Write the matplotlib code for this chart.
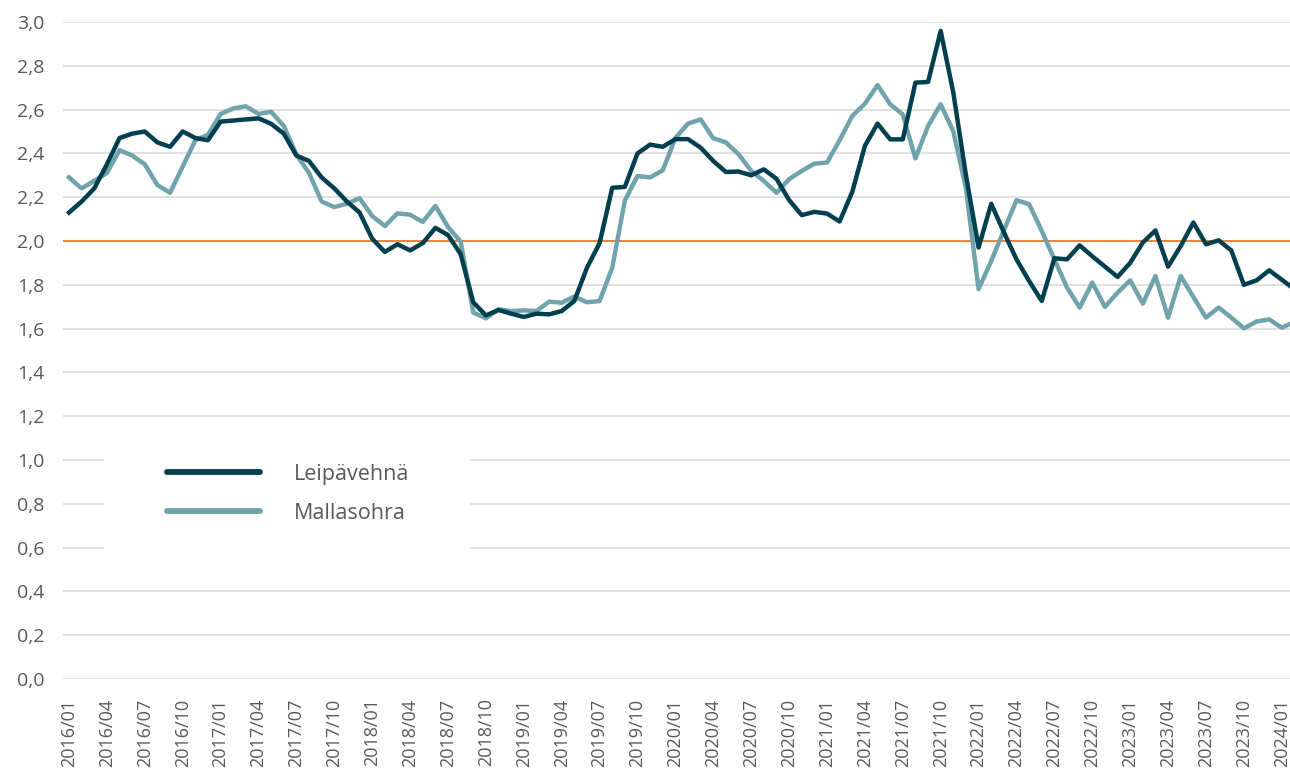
import numpy as np
import matplotlib
matplotlib.use("Agg")
import matplotlib.pyplot as plt
from matplotlib.lines import Line2D
from matplotlib.patches import Rectangle

plt.rcParams['font.family'] = ['Open Sans', 'DejaVu Sans']

# monthly prices, 2016/01 ->
leipavehna = [
    2.13, 2.18, 2.24, 2.35, 2.47, 2.49, 2.50, 2.45, 2.43, 2.50, 2.47, 2.46,
    2.545, 2.55, 2.555, 2.56, 2.535, 2.49, 2.39, 2.365, 2.29, 2.24, 2.18, 2.13,
    2.01, 1.95, 1.985, 1.957, 1.99, 2.06, 2.027, 1.94, 1.72, 1.66, 1.685, 1.668,
    1.653, 1.668, 1.665, 1.68, 1.726, 1.878, 1.99, 2.243, 2.247, 2.40, 2.44, 2.43,
    2.465, 2.465, 2.426, 2.365, 2.315, 2.317, 2.30, 2.327, 2.284, 2.187, 2.118, 2.133,
    2.125, 2.089, 2.224, 2.434, 2.536, 2.464, 2.464, 2.723, 2.726, 2.959, 2.677, 2.30,
    1.97, 2.17, 2.04, 1.916, 1.817, 1.726, 1.921, 1.916, 1.98, 1.93, 1.883, 1.836,
    1.90, 1.993, 2.048, 1.883, 1.977, 2.084, 1.985, 2.003, 1.957, 1.80, 1.82, 1.866,
    1.823, 1.78,
]
mallasohra = [
    2.29, 2.24, 2.275, 2.31, 2.415, 2.39, 2.35, 2.255, 2.22, 2.34, 2.46, 2.485,
    2.58, 2.605, 2.615, 2.58, 2.59, 2.525, 2.395, 2.31, 2.18, 2.155, 2.17, 2.195,
    2.114, 2.068, 2.126, 2.12, 2.087, 2.16, 2.064, 1.997, 1.673, 1.647, 1.688, 1.68,
    1.683, 1.68, 1.723, 1.718, 1.746, 1.72, 1.726, 1.878, 2.185, 2.297, 2.29, 2.323,
    2.47, 2.536, 2.555, 2.469, 2.45, 2.396, 2.32, 2.274, 2.22, 2.282, 2.32, 2.353,
    2.358, 2.46, 2.571, 2.627, 2.712, 2.624, 2.578, 2.377, 2.525, 2.624, 2.50, 2.24,
    1.78, 1.909, 2.048, 2.186, 2.168, 2.046, 1.916, 1.787, 1.696, 1.81, 1.699, 1.764,
    1.82, 1.714, 1.84, 1.65, 1.84, 1.744, 1.65, 1.696, 1.65, 1.601, 1.632, 1.642,
    1.604, 1.63,
]
raja = 2.0

kuukaudet = [f"{y}/{m:02d}" for y in range(2016, 2025) for m in range(1, 13)][:len(leipavehna)]
tick_idx = list(range(0, 97, 3))
tick_labels = [kuukaudet[i] for i in tick_idx]

dark = '#003f4f'
light = '#70a3ab'
orange = '#ed7d31'
textc = '#595959'

fig = plt.figure(figsize=(12.9, 7.79), dpi=100)
ax = fig.add_axes([0.0486, 0.1284, 0.9514, 0.8434])

x = np.arange(len(leipavehna))
ax.axhline(raja, color=orange, lw=1.3, zorder=2)
ax.plot(x, mallasohra, color=light, lw=3.2, solid_joinstyle='round', zorder=3)
ax.plot(x, leipavehna, color=dark, lw=3.2, solid_joinstyle='round', zorder=4)

ax.set_xlim(-0.5, 96.65)
ax.set_ylim(0, 3.0)
ax.set_yticks(np.arange(0, 3.01, 0.2))
ax.set_yticklabels([f"{v:.1f}".replace('.', ',') for v in np.arange(0, 3.01, 0.2)])
ax.set_xticks(tick_idx)
ax.set_xticklabels(tick_labels, rotation=90)
ax.tick_params(axis='y', length=0, labelsize=14, labelcolor=textc, pad=13)
ax.tick_params(axis='x', length=0, labelsize=13, labelcolor=textc, pad=14)
for s in ax.spines.values():
    s.set_visible(False)
ax.grid(axis='y', color='#d9d9d9', lw=1.1, zorder=0)
ax.set_axisbelow(True)

# white legend background covering gridlines
ax.add_patch(Rectangle((0.0337, 0.181), 0.298, 0.183, transform=ax.transAxes,
                       facecolor='white', edgecolor='none', zorder=1))
handles = [Line2D([], [], color=dark, lw=4.2, solid_capstyle='round'),
           Line2D([], [], color=light, lw=4.2, solid_capstyle='round')]
leg = ax.legend(handles, ['Leipävehnä', 'Mallasohra'], loc='center left',
                bbox_to_anchor=(0.085, 0.282), frameon=False, fontsize=15.5,
                handlelength=4.3, handletextpad=1.6, labelspacing=0.85,
                borderpad=0, borderaxespad=0, labelcolor=textc)
leg.set_zorder(5)

fig.savefig('out.png', dpi=100)
